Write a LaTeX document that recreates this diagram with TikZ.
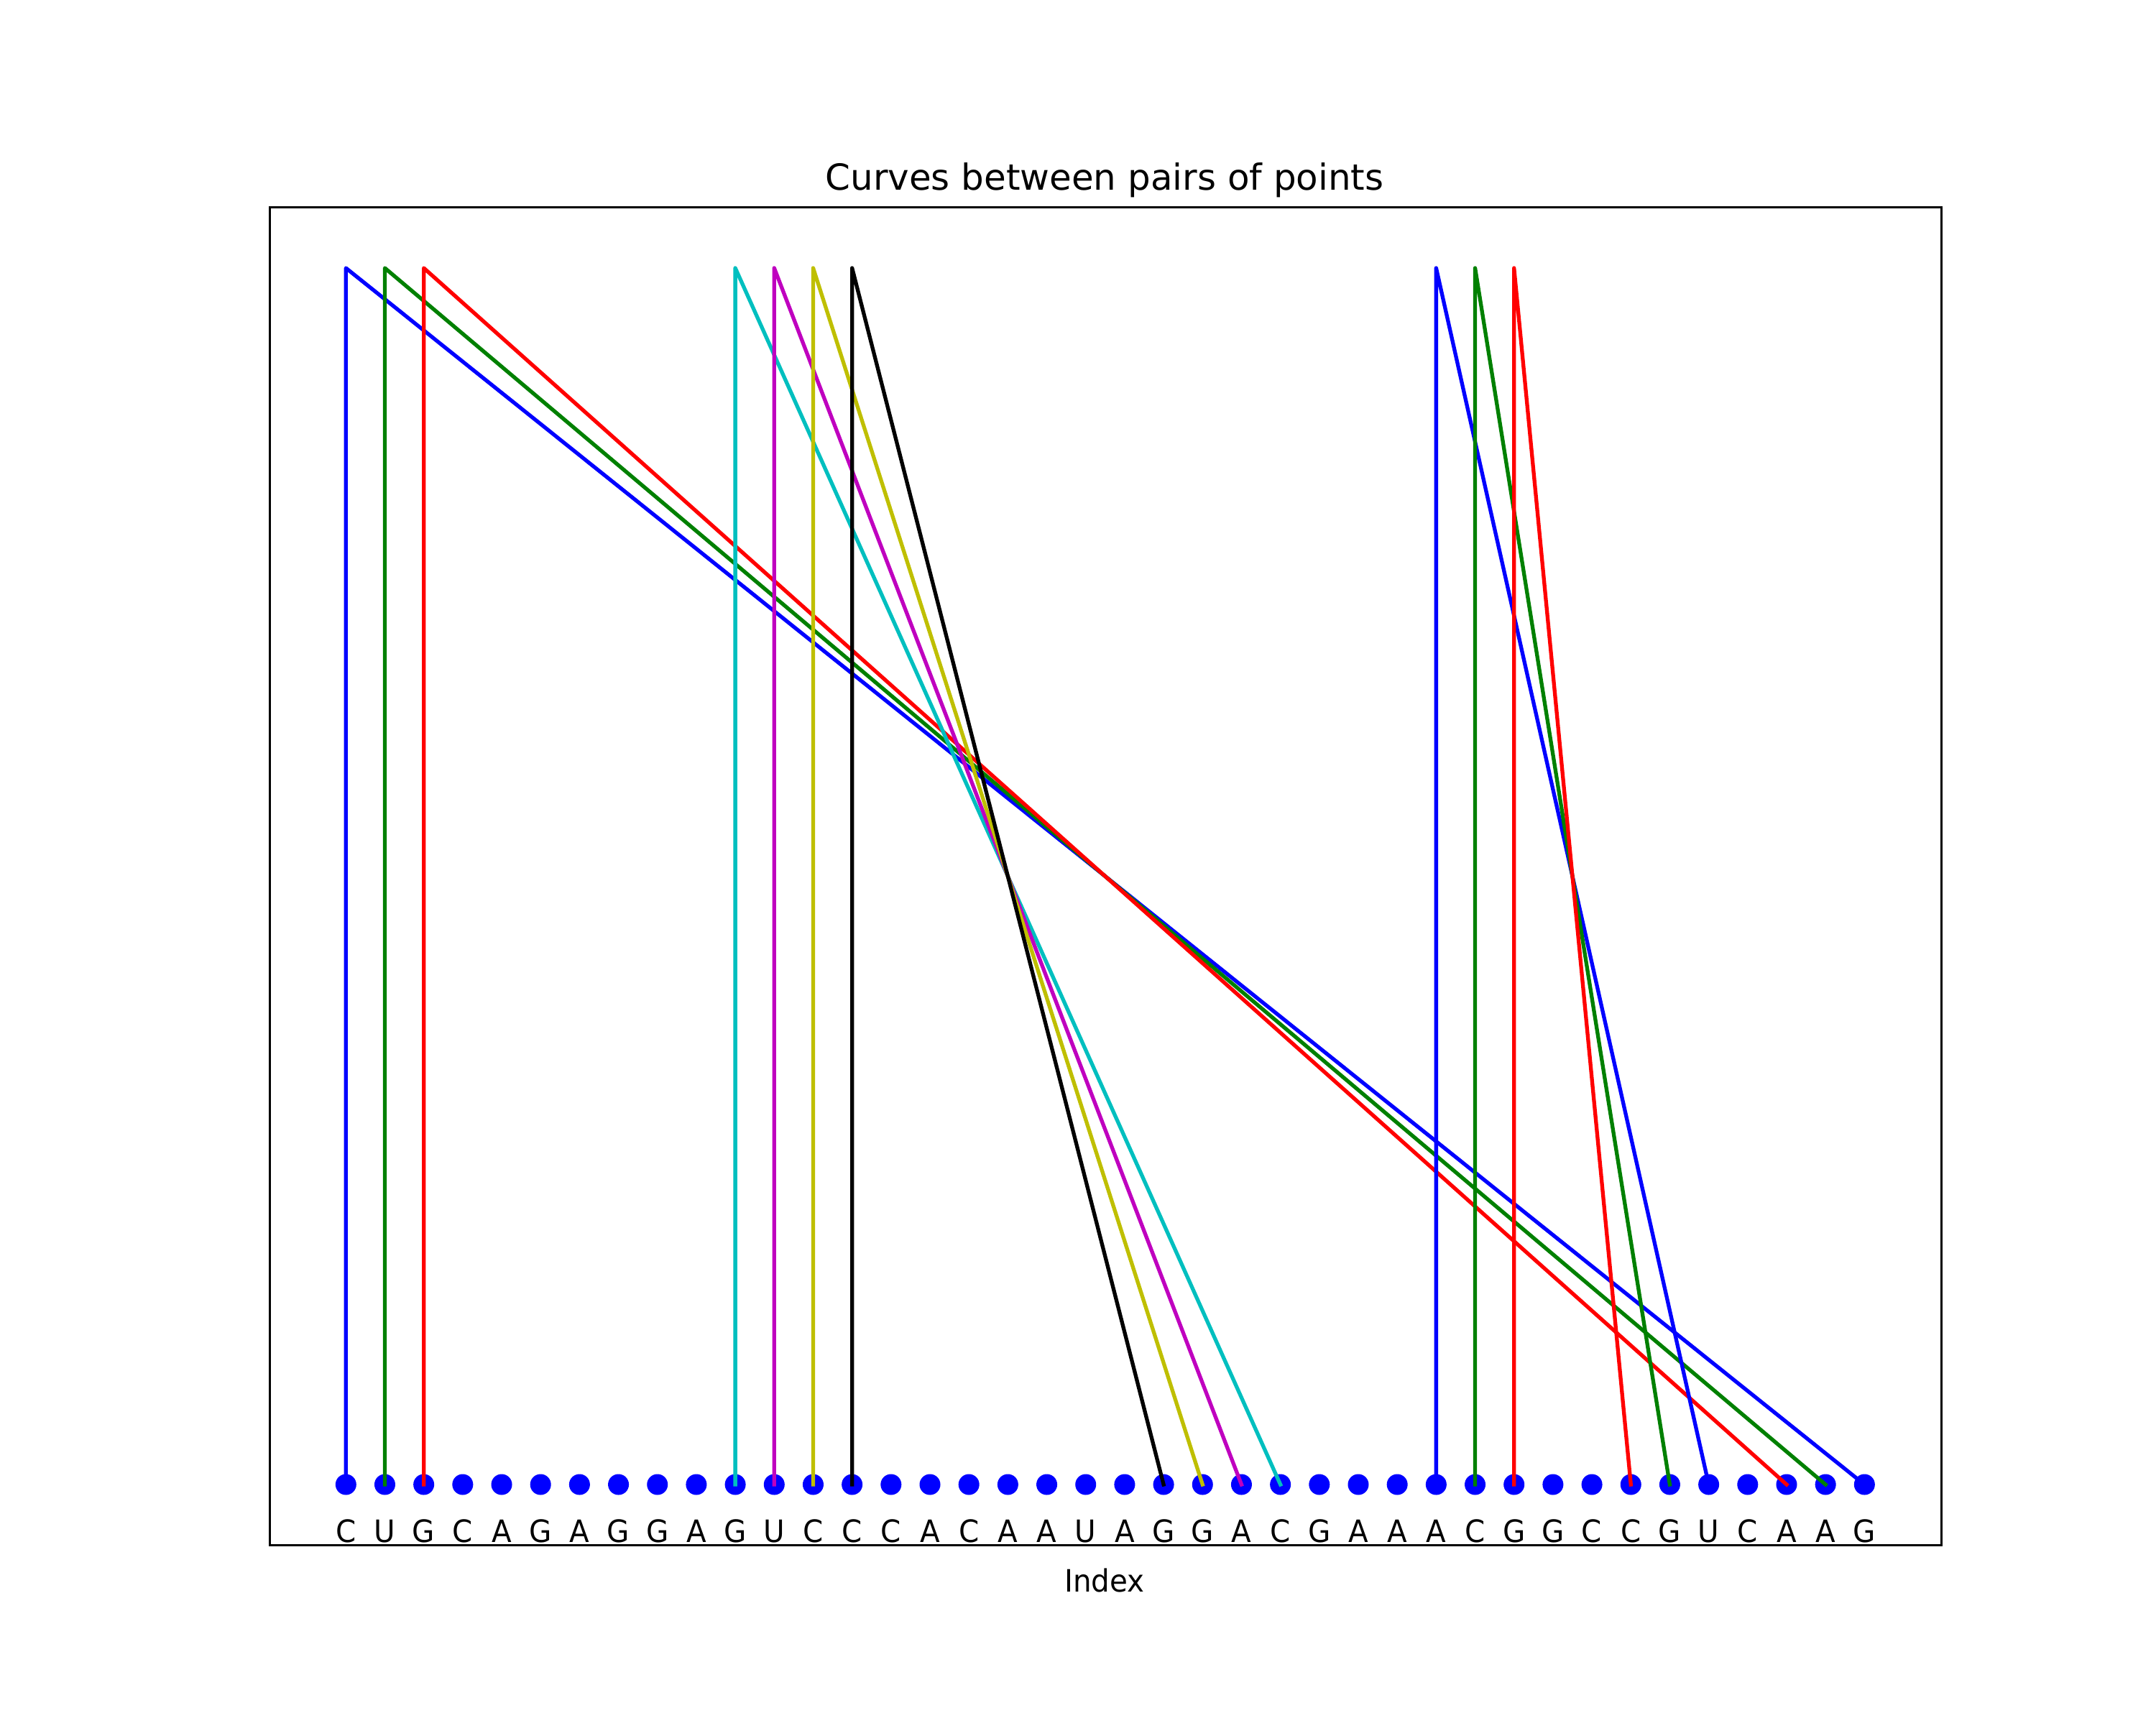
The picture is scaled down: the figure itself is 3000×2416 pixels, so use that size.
\documentclass[tikz,border=0pt]{standalone}
\usepackage{fontspec}
\usepackage{graphicx}
\setmainfont{DejaVu Sans}
\definecolor{mb}{rgb}{0,0,1}
\definecolor{mg}{rgb}{0,0.5,0}
\definecolor{mr}{rgb}{1,0,0}
\definecolor{mc}{rgb}{0,0.75,0.75}
\definecolor{mm}{rgb}{0.75,0,0.75}
\definecolor{my}{rgb}{0.75,0.75,0}
\definecolor{mk}{rgb}{0,0,0}
\newcommand{\vstretch}[1]{\scalebox{1}[1.06]{#1}}
\tikzset{
  dot/.style={circle, fill=mb, draw=none, inner sep=0pt, minimum size=0.29cm},
  lbl/.style={anchor=base, inner sep=0pt, font=\fontsize{11.5}{14}\selectfont},
  link/.style={line width=0.053cm, line cap=rect, line join=round},
  frame/.style={line width=0.03cm, black},
}
\begin{document}
\begin{tikzpicture}[x=0.01cm,y=-0.01cm]
\useasboundingbox (0,0) rectangle (3000,2416);
\fill[white] (0,0) rectangle (3000,2416);
\draw[frame] (375,289) rectangle (2701,2150);
\foreach \l [count=\i from 0] in {C,U,G,C,A,G,A,G,G,A,G,U,C,C,C,A,C,A,A,U,A,G,G,A,C,G,A,A,A,C,G,G,C,C,G,U,C,A,A,G} {
  \node[dot] (p\i) at ({481.3+54.18*\i},2066) {};
  \node[lbl] (l\i) at ({481.3+54.18*\i},2146) {\vstretch{\l}};
}
\coordinate (top) at (0,373);
\draw[link, mb] (p0.center) -- (p0.center |- top) -- (p39.center);
\draw[link, mg] (p1.center) -- (p1.center |- top) -- (p38.center);
\draw[link, mr] (p2.center) -- (p2.center |- top) -- (p37.center);
\draw[link, mc] (p10.center) -- (p10.center |- top) -- (p24.center);
\draw[link, mm] (p11.center) -- (p11.center |- top) -- (p23.center);
\draw[link, my] (p12.center) -- (p12.center |- top) -- (p22.center);
\draw[link, mk] (p13.center) -- (p13.center |- top) -- (p21.center);
\draw[link, mb] (p28.center) -- (p28.center |- top) -- (p35.center);
\draw[link, mg] (p29.center) -- (p29.center |- top) -- (p34.center);
\draw[link, mr] (p30.center) -- (p30.center |- top) -- (p33.center);
\node[anchor=base, inner sep=0pt, font=\fontsize{14.2}{17}\selectfont] (title) at (1537,265) {Curves between pairs of points};
\node[lbl] (xlabel) at (1537,2215) {\vstretch{Index}};
\end{tikzpicture}
\end{document}
